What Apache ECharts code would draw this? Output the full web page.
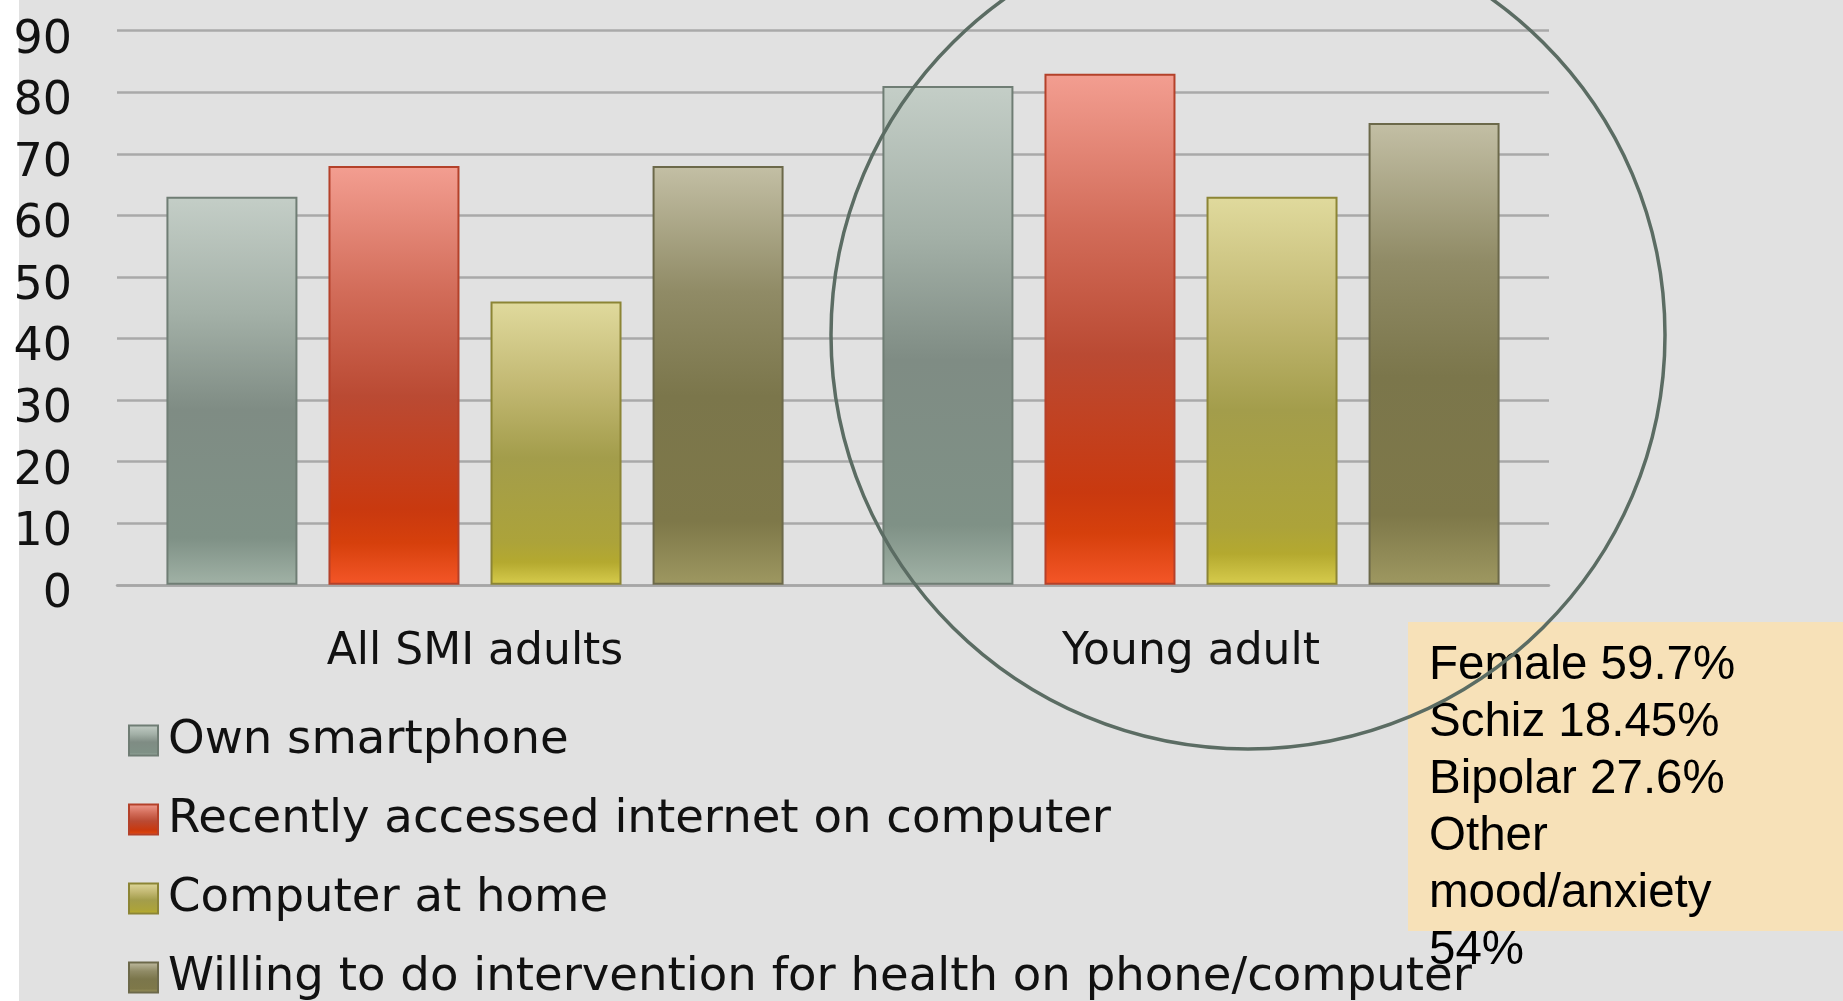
<!DOCTYPE html>
<html>
<head>
<meta charset="utf-8">
<title>Technology access among adults with SMI</title>
<script src="https://cdn.jsdelivr.net/npm/echarts@6/dist/echarts.min.js"></script>
<style>
  html, body { margin: 0; padding: 0; width: 100%; height: 100%; overflow: hidden; }
  body { background: linear-gradient(to right, #ffffff 0, #ffffff 19px, #e1e1e1 19px, #e1e1e1 100%); }
  #chart { width: 1843px; height: 1001px; }
</style>
</head>
<body>
<div id="chart"></div>
<script>
// Groups on the category axis
const categories = ['All SMI adults', 'Young adult'];

// Percentages per group
const ownSmartphone = [63, 81];
const recentInternet = [68, 83];
const computerAtHome = [46, 63];
const willingIntervention = [68, 75];

const seriesNames = [
  'Own smartphone',
  'Recently accessed internet on computer',
  'Computer at home',
  'Willing to do intervention for health on phone/computer'
];

// Value axis range
const yMin = 0;
const yMax = 90;
const yStep = 10;

// Sample description shown in the note box
const noteLines = ['Female 59.7%', 'Schiz 18.45%', 'Bipolar 27.6%', 'Other', 'mood/anxiety', '54%'];

const chart = echarts.init(document.getElementById('chart'), null, { renderer: 'canvas' });

function grad(stops) {
  return new echarts.graphic.LinearGradient(0, 0, 0, 1,
    stops.map(s => ({ offset: s[0], color: s[1] })));
}

const palettes = [
  { fill: grad([[0, '#c4cec7'], [0.3, '#a3b0a7'], [0.55, '#7f8c84'], [0.88, '#7f9186'], [1, '#a1b2a6']]), border: '#6f7d74' },
  { fill: grad([[0, '#f39e91'], [0.3, '#d26c59'], [0.55, '#ba4a33'], [0.82, '#c9390f'], [0.9, '#d6400c'], [1, '#f45628']]), border: '#b4412a' },
  { fill: grad([[0, '#e0da9d'], [0.3, '#c2b872'], [0.55, '#a39d4b'], [0.85, '#aca33a'], [0.92, '#b4a92f'], [1, '#d7cc4d']]), border: '#8c8535' },
  { fill: grad([[0, '#c3bfa5'], [0.3, '#908b66'], [0.55, '#7b764b'], [0.85, '#7e7849'], [1, '#9e9861']]), border: '#6c694a' }
];

const seriesData = [ownSmartphone, recentInternet, computerAtHome, willingIntervention];

const uiFont = '"DejaVu Sans", "Noto Sans", sans-serif';

const series = seriesData.map((d, i) => ({
  name: seriesNames[i],
  type: 'bar',
  data: d,
  barWidth: 131,
  barGap: '23.7%',
  itemStyle: {
    color: palettes[i].fill,
    borderColor: palettes[i].border,
    borderWidth: 2
  },
  emphasis: { disabled: true },
  z: 3
}));

chart.setOption({
  animation: false,
  backgroundColor: 'transparent',
  grid: { left: 117, right: 294, top: 30.6, bottom: 416.2, containLabel: false },
  xAxis: {
    type: 'category',
    data: categories,
    axisLine: { show: true, lineStyle: { color: '#a6a6a6', width: 2.5 } },
    axisTick: { show: false },
    axisLabel: {
      color: '#111111',
      fontFamily: uiFont,
      fontSize: 44,
      margin: 46
    }
  },
  yAxis: {
    type: 'value',
    min: yMin,
    max: yMax,
    interval: yStep,
    axisLine: { show: false },
    axisTick: { show: false },
    splitLine: { show: true, lineStyle: { color: '#a9a9a9', width: 2.5 } },
    axisLabel: {
      color: '#111111',
      fontFamily: uiFont,
      fontSize: 46,
      margin: 45,
      formatter: v => '{n|' + v + '}',
      rich: {
        n: {
          color: '#111111',
          fontFamily: uiFont,
          fontSize: 46,
          padding: [20, 0, 0, 0]
        }
      }
    }
  },
  legend: {
    orient: 'vertical',
    left: 123,
    top: 712,
    height: 500,
    itemWidth: 29,
    itemHeight: 30,
    itemGap: 32,
    icon: 'rect',
    selectedMode: false,
    textStyle: {
      color: '#111111',
      fontFamily: uiFont,
      fontSize: 46.6,
      lineHeight: 44,
      padding: [0, 0, 0, 5]
    },
    data: seriesNames
  },
  series: series,
  graphic: [
    {
      type: 'rect',
      z: 10,
      shape: { x: 1408, y: 622, width: 440, height: 309 },
      style: { fill: '#f7e1b8' }
    },
    {
      type: 'text',
      z: 11,
      x: 1429,
      y: 637,
      style: {
        text: noteLines.join('\n'),
        fill: '#000000',
        font: '47.5px "Liberation Sans", Arial, sans-serif',
        lineHeight: 57,
        textVerticalAlign: 'top'
      }
    },
    {
      type: 'ellipse',
      z: 12,
      shape: { cx: 1248, cy: 335, rx: 417, ry: 414 },
      style: { fill: 'none', stroke: '#5b6c63', lineWidth: 3.5 }
    }
  ]
});
</script>
</body>
</html>
